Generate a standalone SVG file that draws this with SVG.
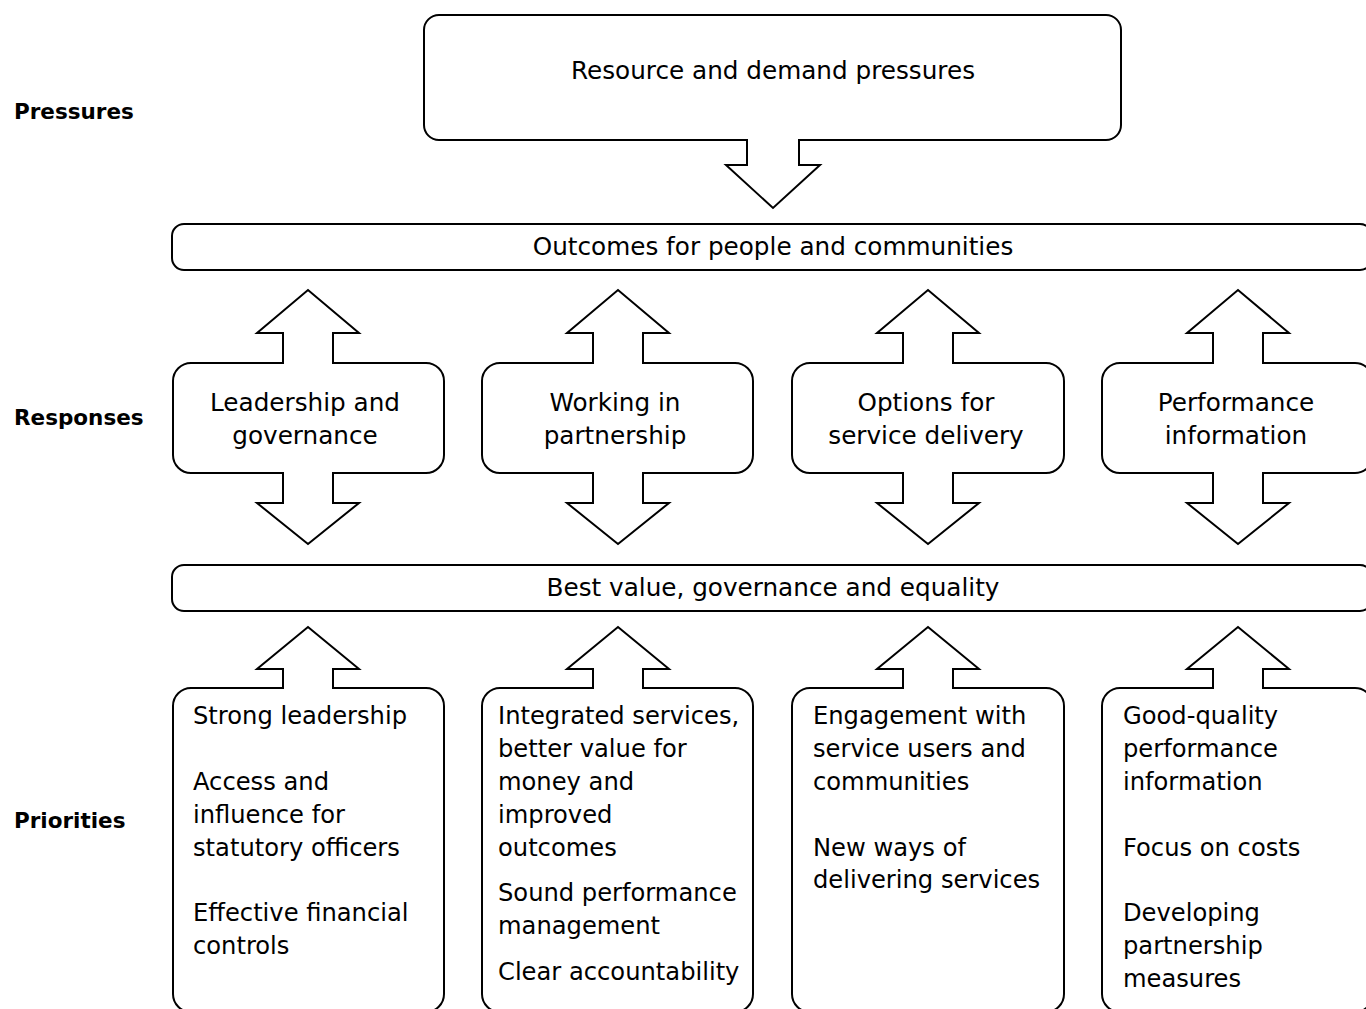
<svg xmlns="http://www.w3.org/2000/svg" width="1366" height="1009" viewBox="0 0 1366 1009">
<style>
.sh{fill:#fff;stroke:#000;stroke-width:2;stroke-linejoin:miter}
.t{font-family:"DejaVu Sans",sans-serif;font-size:24.2px;fill:#000}
.c{text-anchor:middle;font-size:24.7px}
.lb{font-family:"DejaVu Sans",sans-serif;font-size:21.5px;font-weight:bold;fill:#000}
</style>
<rect width="1366" height="1009" fill="#fff"/>
<g id="labels">
<text class="lb" x="14" y="119">Pressures</text>
<text class="lb" x="14" y="425">Responses</text>
<text class="lb" x="14" y="828">Priorities</text>
</g>
<g id="pressures">
<path class="sh" d="M747,140 L439,140 A15,15 0 0 1 424,125 L424,30 A15,15 0 0 1 439,15 L1106,15 A15,15 0 0 1 1121,30 L1121,125 A15,15 0 0 1 1106,140 L799,140 L799,165 L820,165 L773,208 L726,165 L747,165 Z"/>
<text class="t c" x="773" y="79">Resource and demand pressures</text>
</g>
<g id="outcomes">
<rect class="sh" x="172" y="224" width="1200" height="46" rx="12"/>
<text class="t c" x="773" y="255">Outcomes for people and communities</text>
</g>
<g id="bestvalue">
<rect class="sh" x="172" y="565" width="1200" height="46" rx="12"/>
<text class="t c" x="773" y="596">Best value, governance and equality</text>
</g>
<g id="resp1">
<path class="sh" d="M283,363 L283,333 L257,333 L308,290 L359,333 L333,333 L333,363 L426,363 A18,18 0 0 1 444,381 L444,455 A18,18 0 0 1 426,473 L333,473 L333,503 L359,503 L308,544 L257,503 L283,503 L283,473 L191,473 A18,18 0 0 1 173,455 L173,381 A18,18 0 0 1 191,363 Z"/>
<text class="t c" x="305" y="411">Leadership and</text>
<text class="t c" x="305" y="444">governance</text>
</g>
<g id="resp2">
<path class="sh" d="M593,363 L593,333 L567,333 L618,290 L669,333 L643,333 L643,363 L735,363 A18,18 0 0 1 753,381 L753,455 A18,18 0 0 1 735,473 L643,473 L643,503 L669,503 L618,544 L567,503 L593,503 L593,473 L500,473 A18,18 0 0 1 482,455 L482,381 A18,18 0 0 1 500,363 Z"/>
<text class="t c" x="615" y="411">Working in</text>
<text class="t c" x="615" y="444">partnership</text>
</g>
<g id="resp3">
<path class="sh" d="M903,363 L903,333 L877,333 L928,290 L979,333 L953,333 L953,363 L1046,363 A18,18 0 0 1 1064,381 L1064,455 A18,18 0 0 1 1046,473 L953,473 L953,503 L979,503 L928,544 L877,503 L903,503 L903,473 L810,473 A18,18 0 0 1 792,455 L792,381 A18,18 0 0 1 810,363 Z"/>
<text class="t c" x="926" y="411">Options for</text>
<text class="t c" x="926" y="444">service delivery</text>
</g>
<g id="resp4">
<path class="sh" d="M1213,363 L1213,333 L1187,333 L1238,290 L1289,333 L1263,333 L1263,363 L1355,363 A18,18 0 0 1 1373,381 L1373,455 A18,18 0 0 1 1355,473 L1263,473 L1263,503 L1289,503 L1238,544 L1187,503 L1213,503 L1213,473 L1120,473 A18,18 0 0 1 1102,455 L1102,381 A18,18 0 0 1 1120,363 Z"/>
<text class="t c" x="1236" y="411">Performance</text>
<text class="t c" x="1236" y="444">information</text>
</g>
<g id="prio1">
<path class="sh" d="M283,688 L283,669 L257,669 L308,627 L359,669 L333,669 L333,688 L426,688 A18,18 0 0 1 444,706 L444,994 A18,18 0 0 1 426,1012 L191,1012 A18,18 0 0 1 173,994 L173,706 A18,18 0 0 1 191,688 Z"/>
<text class="t" x="193" y="724">Strong leadership</text>
<text class="t" x="193" y="790">Access and</text>
<text class="t" x="193" y="823">influence for</text>
<text class="t" x="193" y="856">statutory officers</text>
<text class="t" x="193" y="921">Effective financial</text>
<text class="t" x="193" y="954">controls</text>
</g>
<g id="prio2">
<path class="sh" d="M593,688 L593,669 L567,669 L618,627 L669,669 L643,669 L643,688 L735,688 A18,18 0 0 1 753,706 L753,994 A18,18 0 0 1 735,1012 L500,1012 A18,18 0 0 1 482,994 L482,706 A18,18 0 0 1 500,688 Z"/>
<text class="t" x="498" y="724">Integrated services,</text>
<text class="t" x="498" y="757">better value for</text>
<text class="t" x="498" y="790">money and</text>
<text class="t" x="498" y="823">improved</text>
<text class="t" x="498" y="856">outcomes</text>
<text class="t" x="498" y="901">Sound performance</text>
<text class="t" x="498" y="934">management</text>
<text class="t" x="498" y="980">Clear accountability</text>
</g>
<g id="prio3">
<path class="sh" d="M903,688 L903,669 L877,669 L928,627 L979,669 L953,669 L953,688 L1046,688 A18,18 0 0 1 1064,706 L1064,994 A18,18 0 0 1 1046,1012 L810,1012 A18,18 0 0 1 792,994 L792,706 A18,18 0 0 1 810,688 Z"/>
<text class="t" x="813" y="724">Engagement with</text>
<text class="t" x="813" y="757">service users and</text>
<text class="t" x="813" y="790">communities</text>
<text class="t" x="813" y="856">New ways of</text>
<text class="t" x="813" y="888">delivering services</text>
</g>
<g id="prio4">
<path class="sh" d="M1213,688 L1213,669 L1187,669 L1238,627 L1289,669 L1263,669 L1263,688 L1355,688 A18,18 0 0 1 1373,706 L1373,994 A18,18 0 0 1 1355,1012 L1120,1012 A18,18 0 0 1 1102,994 L1102,706 A18,18 0 0 1 1120,688 Z"/>
<text class="t" x="1123" y="724">Good-quality</text>
<text class="t" x="1123" y="757">performance</text>
<text class="t" x="1123" y="790">information</text>
<text class="t" x="1123" y="856">Focus on costs</text>
<text class="t" x="1123" y="921">Developing</text>
<text class="t" x="1123" y="954">partnership</text>
<text class="t" x="1123" y="987">measures</text>
</g>
<g id="connectors"></g>
</svg>
